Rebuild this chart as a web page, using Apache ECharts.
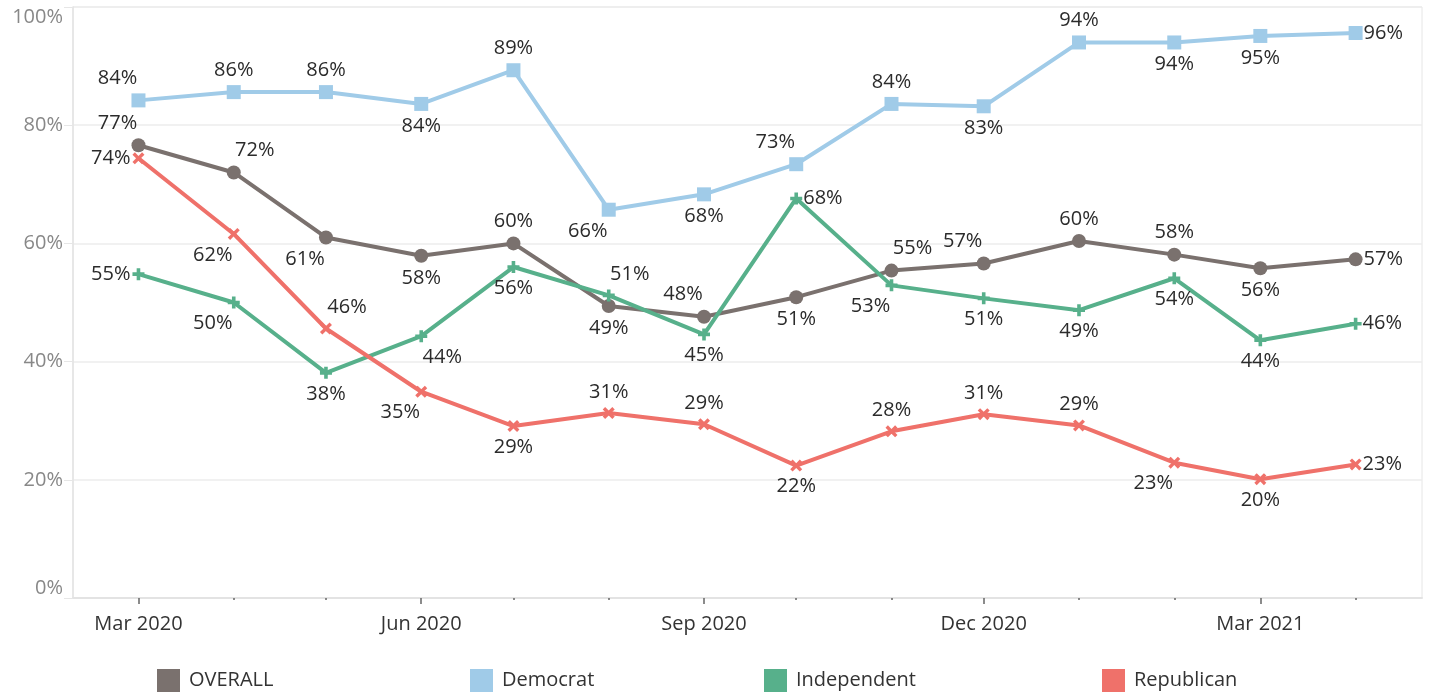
<!DOCTYPE html>
<html>
<head>
<meta charset="utf-8">
<script src="https://cdn.jsdelivr.net/npm/echarts@6/dist/echarts.min.js"></script>
<style>
html,body{margin:0;padding:0;background:#fff;}
#chart{width:1429px;height:693px;}
</style>
</head>
<body>
<div id="chart"></div>
<script>
// ---- data ----
const months = ['2020-03','2020-04','2020-05','2020-06','2020-07','2020-08','2020-09',
                '2020-10','2020-11','2020-12','2021-01','2021-02','2021-03','2021-04'];
const tickMonths = ['2020-03','2020-06','2020-09','2020-12','2021-03'];
const tickLabels = ['Mar 2020','Jun 2020','Sep 2020','Dec 2020','Mar 2021'];
const seriesNames = ['OVERALL','Democrat','Independent','Republican'];
const overall     = [76.6, 72.0, 61.0, 57.9, 60.0, 49.4, 47.6, 50.9, 55.4, 56.6, 60.4, 58.1, 55.8, 57.3];
const democrat    = [84.2, 85.6, 85.6, 83.6, 89.3, 65.7, 68.3, 73.4, 83.6, 83.2, 94.0, 94.0, 95.1, 95.6];
const independent = [54.8, 50.0, 38.1, 44.3, 56.0, 51.2, 44.6, 67.6, 52.9, 50.7, 48.7, 54.1, 43.6, 46.4];
const republican  = [74.4, 61.6, 45.6, 34.9, 29.1, 31.3, 29.4, 22.4, 28.2, 31.1, 29.2, 22.9, 20.1, 22.6];

// ---- helpers ----
const base = Date.UTC(2020, 2, 1);
function dayOf(m){ const p = m.split('-'); return (Date.UTC(+p[0], +p[1]-1, 1) - base) / 86400000; }
const xs = months.map(dayOf);
const qx = tickMonths.map(dayOf);

// label placement codes (styling)
const place = {
  OVERALL:     ['TL','TR','BL','B','T','B','TL','B','TR','TL','T','T','B','R'],
  Democrat:    ['TL','T','T','B','T','BL','B','TL','T','B','T','B','B','R'],
  Independent: ['L','BL','B','BR','B','TR','B','R','BL','B','B','B','B','R'],
  Republican:  ['L','BL','TR','BL','B','T','T','B','T','T','T','BL','B','R']
};
function labelFor(code){
  const d = 21;
  switch(code){
    case 'T':  return {position:'top'};
    case 'B':  return {position:'bottom'};
    case 'L':  return {position:'left', distance:2};
    case 'R':  return {position:'right', distance:1};
    case 'TL': return {position:'top', offset:[-d,0]};
    case 'TR': return {position:'top', offset:[d,0]};
    case 'BL': return {position:'bottom', offset:[-d,0]};
    case 'BR': return {position:'bottom', offset:[d,0]};
  }
}
const colors = {OVERALL:'#7a716e', Democrat:'#a0cbe8', Independent:'#57b08b', Republican:'#ef716a'};
const plusPath = 'path://M3.5,0H6.5V3.5H10V6.5H6.5V10H3.5V6.5H0V3.5H3.5Z';
const crossPath = 'path://M2,0L5,3L8,0L10,2L7,5L10,8L8,10L5,7L2,10L0,8L3,5L0,2Z';
const symbols = {OVERALL:['circle',14], Democrat:['rect',14], Independent:[plusPath,12], Republican:[crossPath,12]};
const values = {OVERALL:overall, Democrat:democrat, Independent:independent, Republican:republican};

const FONT = '"Open Sans", "Noto Sans", sans-serif';

const series = seriesNames.map(name => ({
  name: name,
  type: 'line',
  xAxisIndex: 0,
  symbol: symbols[name][0],
  symbolSize: symbols[name][1],
  showAllSymbol: true,
  lineStyle: {width: 4, color: colors[name]},
  itemStyle: {color: colors[name]},
  label: {
    show: true, fontFamily: FONT, fontSize: 20, color: '#2b2b2b',
    formatter: p => Math.round(p.value[1]) + '%'
  },
  emphasis: {disabled: true},
  data: xs.map((x, i) => ({value: [x, values[name][i]], label: labelFor(place[name][i])}))
}));

const legendLeft = [157, 470, 764, 1102];
const legends = seriesNames.map((n, i) => ({
  data: [n], left: legendLeft[i], top: 669, padding: 0, icon: 'rect',
  itemWidth: 23, itemHeight: 23, selectedMode: false,
  textStyle: {fontFamily: FONT, fontSize: 20, color: '#333', padding: [5,0,0,4]}
}));

const chart = echarts.init(document.getElementById('chart'), null, {renderer: 'canvas'});
chart.setOption({
  animation: false,
  color: seriesNames.map(n => colors[n]),
  textStyle: {fontFamily: FONT},
  legend: legends,
  grid: {left: 73, right: 7, top: 7, bottom: 95, containLabel: false, outerBoundsMode: 'none',
         show: true, borderColor: '#e6e6e6', borderWidth: 1},
  xAxis: [{
    type: 'value', min: -21.3, max: 417.6, position: 'bottom',
    splitLine: {show: false},
    axisLine: {show: true, onZero: false, lineStyle: {color: '#e3e3e3', width: 2}},
    axisTick: {show: true, customValues: qx, length: 6, lineStyle: {color: '#666', width: 1.5}},
    axisLabel: {
      show: true, customValues: qx, margin: 16,
      fontFamily: FONT, fontSize: 20, fontWeight: 500, color: '#333',
      formatter: v => { const k = qx.findIndex(q => Math.abs(q - v) < 0.5); return k >= 0 ? tickLabels[k] : ''; }
    }
  }, {
    type: 'value', min: -21.3, max: 417.6, position: 'bottom',
    splitLine: {show: false},
    axisLine: {show: false, onZero: false},
    axisTick: {show: true, customValues: xs, length: 2, lineStyle: {color: '#666', width: 1.5}},
    axisLabel: {show: false}
  }],
  yAxis: {
    type: 'value', min: 0, max: 100, interval: 20,
    axisLine: {show: true, onZero: false, lineStyle: {color: '#e3e3e3', width: 1.5}},
    axisTick: {show: true, length: 9, lineStyle: {color: '#e6e6e6'}},
    splitLine: {show: true, lineStyle: {color: '#ececec', width: 1.5}},
    axisLabel: {
      fontFamily: FONT, fontSize: 20, color: '#888', margin: 10,
      formatter: '{value}%',
      verticalAlignMaxLabel: 'top', verticalAlignMinLabel: 'bottom'
    }
  },
  series: series
});
</script>
</body>
</html>
